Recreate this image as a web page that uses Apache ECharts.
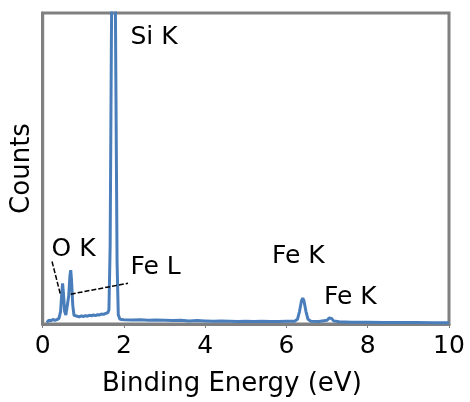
<!DOCTYPE html>
<html>
<head>
    <meta charset="utf-8">
    <title>EDS spectrum</title>
    <script src="https://cdn.jsdelivr.net/npm/echarts@6/dist/echarts.min.js"></script>
</head>
<body style="margin:0">
    <div id="main" style="width:470px;height:402px;"></div>
    <script type="text/javascript">
        // energy (eV) and counts (arbitrary, 100 = top of the plot)
        var energy = [0.10, 0.15, 0.20, 0.25, 0.30, 0.35, 0.40, 0.44, 0.47, 0.49, 0.51, 0.54, 0.57, 0.60, 0.64, 0.67, 0.69, 0.71, 0.74, 0.77,
            0.80, 0.85, 0.90, 0.95, 1.00, 1.05, 1.10, 1.15, 1.20, 1.25, 1.30, 1.35, 1.40, 1.45, 1.50, 1.55, 1.60, 1.63, 1.66, 1.69,
            1.72, 1.74, 1.77, 1.80, 1.83, 1.86, 1.90, 2.00, 2.20, 2.40, 2.60, 2.80, 3.00, 3.20, 3.40, 3.60, 3.80, 4.00, 4.20, 4.40,
            4.60, 4.80, 5.00, 5.20, 5.40, 5.60, 5.80, 6.00, 6.20, 6.27, 6.32, 6.37, 6.40, 6.43, 6.48, 6.53, 6.60, 6.80, 7.00, 7.05,
            7.08, 7.11, 7.16, 7.30, 7.60, 8.00, 8.40, 8.80, 9.20, 9.60, 10.0];
        var counts = [0.5, 1.2, 1.0, 1.5, 1.2, 1.4, 1.8, 4.0, 10.0, 13.1, 10.0, 4.0, 2.9, 3.5, 9.0, 15.5, 17.3, 14.0, 6.0, 2.8,
            2.2, 2.5, 2.3, 2.6, 2.4, 2.7, 2.5, 2.8, 2.6, 2.9, 2.7, 3.0, 2.9, 3.2, 3.1, 3.4, 3.6, 4.5, 25, 90,
            140, 160, 140, 80, 20, 3.0, 1.5, 1.4, 1.3, 1.4, 1.2, 1.3, 1.2, 1.1, 1.2, 1.0, 1.1, 1.0, 0.9, 1.0,
            0.9, 0.8, 0.9, 0.8, 0.9, 0.8, 0.8, 0.9, 0.9, 1.5, 4.0, 7.5, 8.3, 7.5, 4.0, 1.5, 0.9, 0.8, 1.2, 1.9,
            2.0, 1.8, 1.0, 0.7, 0.6, 0.6, 0.5, 0.5, 0.5, 0.4, 0.4];

        var xTicks = [0, 2, 4, 6, 8, 10];

        // peak labels
        var annoText = ['Si K', 'O K', 'Fe L', 'Fe K', 'Fe K'];
        var annoX = [2.74, 0.76, 2.78, 6.29, 7.57];
        var annoY = [92.0, 24.0, 18.2, 21.7, 8.6];

        // leader lines [x1, y1, x2, y2]
        var leaders = [[0.23, 20.1, 0.44, 9.3], [0.69, 9.6, 2.10, 13.1]];

        var points = energy.map(function (e, i) { return [e, counts[i]]; });
        var annoData = annoText.map(function (t, i) { return { name: t, value: [annoX[i], annoY[i]] }; });
        var leaderData = leaders.map(function (l) {
            return [{ coord: [l[0], l[1]] }, { coord: [l[2], l[3]] }];
        });

        var font = '"DejaVu Sans", sans-serif';
        var myChart = echarts.init(document.getElementById('main'));
        var option = {
            animation: false,
            textStyle: { fontFamily: font },
            grid: {
                left: 42.7, right: 21, top: 13, bottom: 76,
                show: true, borderColor: '#808080', borderWidth: 3, backgroundColor: '#fff'
            },
            xAxis: {
                type: 'value', min: 0, max: 10, interval: 2,
                axisLine: { lineStyle: { color: '#808080', width: 3 } },
                axisTick: { show: true, length: 4, lineStyle: { color: '#808080', width: 1 } },
                axisLabel: {
                    fontSize: 25, color: '#000', margin: 10, fontFamily: font,
                    formatter: function (v) { return xTicks.indexOf(v) >= 0 ? String(v) : ''; }
                },
                splitLine: { show: false },
                name: 'Binding Energy (eV)', nameLocation: 'middle', nameGap: 47,
                nameTextStyle: { fontSize: 26, color: '#000', fontFamily: font, padding: [0, 28, 0, 0] }
            },
            yAxis: {
                type: 'value', min: 0, max: 100,
                axisLine: { show: true, lineStyle: { color: '#808080', width: 3 } },
                axisTick: { show: false },
                axisLabel: { show: false },
                splitLine: { show: false },
                name: 'Counts', nameLocation: 'middle', nameGap: 7,
                nameTextStyle: { fontSize: 26, color: '#000', fontFamily: font }
            },
            series: [{
                type: 'line',
                data: points,
                showSymbol: false,
                clip: true,
                lineStyle: { color: '#4a7ebb', width: 3 },
                markLine: {
                    silent: true,
                    symbol: 'none',
                    label: { show: false },
                    lineStyle: { color: '#000', width: 1.5, type: [5, 2] },
                    data: leaderData
                }
            }, {
                type: 'scatter',
                data: annoData,
                symbolSize: 0,
                silent: true,
                itemStyle: { opacity: 1 },
                label: {
                    show: true, position: 'inside', formatter: '{b}',
                    fontSize: 25, color: '#000', fontFamily: font
                }
            }]
        };
        myChart.setOption(option);
    </script>
</body>
</html>
